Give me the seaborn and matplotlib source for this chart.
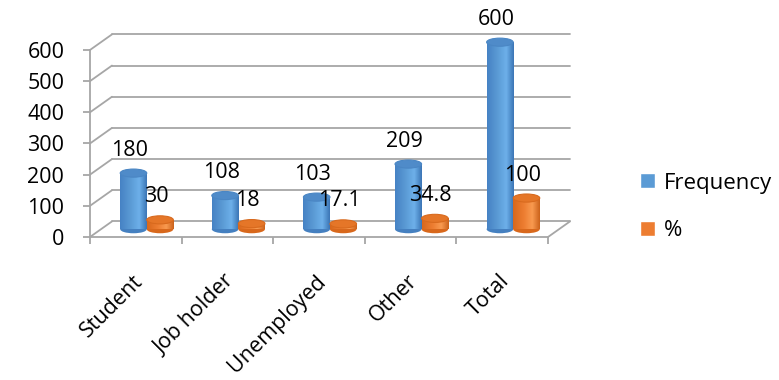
import numpy as np
import pandas as pd
import seaborn as sns
import matplotlib.pyplot as plt
import matplotlib.transforms as mtransforms
from matplotlib.patches import Ellipse, Patch
from matplotlib.colors import LinearSegmentedColormap

# chart values
categories = ["Student", "Job holder", "Unemployed", "Other", "Total"]
frequency = [180, 108, 103, 209, 600]
percent = [30, 18, 17.1, 34.8, 100]
series_names = ["Frequency", "%"]
y_ticks = [0, 100, 200, 300, 400, 500, 600]

df = pd.DataFrame({
    "category": categories * 2,
    "series": [series_names[0]] * len(categories) + [series_names[1]] * len(categories),
    "value": frequency + percent,
})

sns.set_style("white")
plt.rcParams["font.family"] = ["Open Sans", "DejaVu Sans"]
plt.rcParams["text.color"] = "black"
plt.rcParams["xtick.labelcolor"] = "black"
plt.rcParams["ytick.labelcolor"] = "black"

GRAY = "#a6a6a6"
FS = 15.5
base = {"Frequency": "#5b9bd5", "%": "#ed7d31"}
# cylinder shading: left edge -> middle -> highlight -> right edge
shades = {"Frequency": [(0, "#4682c4"), (0.4, "#5b9bd5"), (0.72, "#6db0ea"), (1, "#3c76b6")],
          "%": [(0, "#d8681c"), (0.4, "#ed7d31"), (0.72, "#f99a50"), (1, "#cc631b")]}
tops = {"Frequency": ("#4f8bc9", "#4a86c4"), "%": ("#e57628", "#d86a1e")}
bottoms = {"Frequency": "#4580c0", "%": "#d8681c"}

# pseudo 3D depth (in data units)
DX, DY = 0.24, 50
ELL_H = 26

fig = plt.figure(figsize=(7.79, 3.80), dpi=100)
ax = fig.add_axes([0.1155, 0.3763, 0.6162, 0.5414])

sns.barplot(data=df, x="category", y="value", hue="series", order=categories,
            hue_order=series_names, palette=base, saturation=1, width=0.58,
            linewidth=0, legend=False, ax=ax)

shift = mtransforms.Affine2D().translate(DX / 2, DY / 2) + ax.transData
grad = np.linspace(0, 1, 64).reshape(1, -1)

for cont, s in zip(ax.containers, series_names):
    cmap = LinearSegmentedColormap.from_list(s, shades[s])
    for p in cont:
        x0, w, h = p.get_x(), p.get_width(), p.get_height()
        xc = x0 + w / 2
        p.set_transform(shift)
        p.set_zorder(3)
        ax.add_patch(Ellipse((xc, 0), w, ELL_H, facecolor=bottoms[s], edgecolor="none",
                             transform=shift, zorder=2))
        im = ax.imshow(grad, extent=(x0, x0 + w, 0, h), cmap=cmap, aspect="auto",
                       transform=shift, zorder=3.5, interpolation="bilinear")
        im.set_clip_path(p)
        ax.add_patch(Ellipse((xc, h), w, ELL_H, facecolor=tops[s][0], edgecolor=tops[s][1],
                             linewidth=0.8, transform=shift, zorder=4))
        ax.annotate(f"{h:g}", xy=(xc, h), xycoords=shift, xytext=(-4, 23),
                    textcoords="offset pixels", ha="center", va="center",
                    fontsize=FS, color="black", zorder=6)

# back wall gridlines and side diagonals
for v in y_ticks:
    ax.plot([-0.5 + DX, 4.5 + DX], [v + DY, v + DY], color=GRAY, lw=1.3, zorder=1, clip_on=False)
    ax.plot([-0.5, -0.5 + DX], [v, v + DY], color=GRAY, lw=1.3, zorder=1, clip_on=False)
ax.plot([4.5, 4.5 + DX], [0, DY], color=GRAY, lw=1.3, zorder=1, clip_on=False)

ax.set_xlim(-0.5, 4.5 + DX)
ax.set_ylim(0, 660)

for side in ["top", "right"]:
    ax.spines[side].set_visible(False)
for side in ["left", "bottom"]:
    ax.spines[side].set_color(GRAY)
    ax.spines[side].set_linewidth(1.3)
ax.spines["left"].set_bounds(0, 600)
ax.spines["bottom"].set_bounds(-0.5, 4.5)

ax.set_yticks(y_ticks)
ax.tick_params(axis="y", left=True, direction="out", length=5, width=1.3, color=GRAY,
               labelsize=FS, labelcolor="black", pad=13.5)
ax.set_xticks(range(len(categories)))
ax.set_xticks(np.arange(-0.5, len(categories)), minor=True)
ax.tick_params(axis="x", which="major", bottom=True, length=0, labelsize=FS,
               labelcolor="black", pad=29.5)
ax.tick_params(axis="x", which="minor", bottom=True, direction="out", length=5, width=1.3, color=GRAY)
ax.set_xticklabels(categories, rotation=45, ha="right", va="center", rotation_mode="anchor")
nudge = mtransforms.ScaledTranslation(4 / 100, 0, fig.dpi_scale_trans)
for lab in ax.get_xticklabels():
    lab.set_transform(lab.get_transform() + nudge)
ax.set_xlabel("")
ax.set_ylabel("")

handles = [Patch(facecolor=base[s]) for s in series_names]
fig.legend(handles, series_names, loc="center left", bbox_to_anchor=(640 / 779, 1 - 207 / 380),
           frameon=False, fontsize=16, handlelength=0.66, handleheight=0.66,
           handletextpad=0.4, labelspacing=1.2, borderpad=0, borderaxespad=0,
           labelcolor="black")

fig.savefig("out.png", dpi=100)
